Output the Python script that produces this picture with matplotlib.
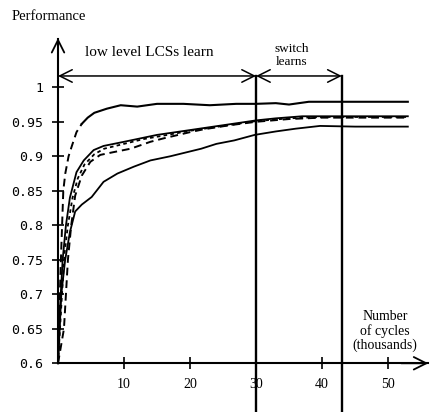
import matplotlib.pyplot as plt

# performance curves (x in thousands of cycles)
top_x = [0, 0.4, 0.8, 1.1, 1.6, 2.1, 2.8, 3.6, 4.5, 5.5, 7.4, 9.5, 12, 15, 19, 23, 27, 30, 33, 35, 38, 42, 46, 50, 53]
top_y = [0.6, 0.74, 0.85, 0.875, 0.9, 0.915, 0.935, 0.947, 0.956, 0.963, 0.969, 0.974, 0.972, 0.976,
         0.976, 0.974, 0.976, 0.976, 0.977, 0.975, 0.979, 0.979, 0.979, 0.979, 0.979]

mid_x = [0, 0.3, 0.7, 1.2, 1.8, 2.8, 3.9, 5.4, 6.9, 10, 13, 15, 20, 25, 30, 33, 37, 42, 46, 50, 53]
mid_y = [0.6, 0.68, 0.75, 0.8, 0.84, 0.877, 0.894, 0.909, 0.915, 0.921, 0.927, 0.931, 0.938, 0.945,
         0.952, 0.955, 0.958, 0.958, 0.958, 0.958, 0.958]

dot_x = [0, 0.6, 1.0, 1.5, 2.2, 3.0, 4.0, 5.5, 7, 10, 13, 16, 20, 25, 30, 35, 40, 45, 50, 53]
dot_y = [0.6, 0.7, 0.76, 0.8, 0.84, 0.868, 0.888, 0.903, 0.911, 0.918, 0.925, 0.93, 0.937, 0.944,
         0.951, 0.955, 0.957, 0.957, 0.957, 0.957]

dash_x = [0, 0.9, 1.2, 1.5, 2.0, 2.6, 3.6, 4.9, 6.4, 8.4, 11, 14, 16, 20, 22, 26, 30, 35, 40, 45, 50, 53]
dash_y = [0.6, 0.65, 0.7, 0.75, 0.8, 0.843, 0.872, 0.892, 0.902, 0.906, 0.911, 0.921, 0.926, 0.935,
          0.939, 0.945, 0.95, 0.954, 0.956, 0.956, 0.956, 0.956]

low_x = [0, 0.5, 1.07, 1.8, 2.6, 3.6, 5.1, 6.9, 9, 11.5, 14, 17, 21.7, 24, 26.7, 29.8, 33, 36, 39.7, 45, 50, 53]
low_y = [0.6, 0.7, 0.749, 0.79, 0.82, 0.83, 0.841, 0.863, 0.875, 0.885, 0.894, 0.9, 0.911, 0.918,
         0.923, 0.931, 0.936, 0.94, 0.944, 0.943, 0.943, 0.943]

xticks = [10, 20, 30, 40, 50]
yticks = [0.6, 0.65, 0.7, 0.75, 0.8, 0.85, 0.9, 0.95, 1.0]
ytick_labels = ["0.6", "0.65", "0.7", "0.75", "0.8", "0.85", "0.9", "0.95", "1"]

phase_edges = [0, 30, 43]
phase_y = 1.0164

fig = plt.figure(figsize=(4.3, 4.12), dpi=100)
ax = fig.add_axes([0, 0, 1, 1])
ax.set_xlim(-8.79, 56.36)
ax.set_ylim(0.5294, 1.1265)

# curves
k = 7
ax.plot(top_x[:k + 1], top_y[:k + 1], color='black', lw=1.4, ls=(0, (4, 2.5)))
ax.plot(top_x[k:], top_y[k:], color='black', lw=1.5)
ax.plot(mid_x, mid_y, color='black', lw=1.3)
ax.plot(dot_x, dot_y, color='black', lw=1.3, ls=(0, (2, 1.8)))
ax.plot(dash_x, dash_y, color='black', lw=1.4, ls=(0, (4, 2.5)))
ax.plot(low_x, low_y, color='black', lw=1.3)

# phase boundaries
for xv in phase_edges[1:]:
    ax.plot([xv, xv], [phase_y, 0.5294], color='black', lw=1.7)

arrow = dict(arrowstyle='<->,head_length=0.9,head_width=0.45', lw=1.1, color='black',
             shrinkA=0, shrinkB=0)
ax.annotate('', xy=(phase_edges[0], phase_y), xytext=(phase_edges[1], phase_y), arrowprops=arrow)
ax.annotate('', xy=(phase_edges[1], phase_y), xytext=(phase_edges[2], phase_y), arrowprops=arrow)

serif = 'Liberation Serif'
ax.text(13.9, 1.0497, "low level LCSs learn", family=serif, fontsize=11, ha='center', va='center')
ax.text(35.45, 1.046, "switch\nlearns", family=serif, fontsize=9.5, ha='center', va='center',
        linespacing=1.15)
ax.text(49.5, 0.647, "Number\nof cycles\n(thousands)", family=serif, fontsize=10, ha='center',
        va='center', linespacing=1.08)
ax.text(-6.97, 1.1019, "Performance", family=serif, fontsize=10.5, ha='left', va='center')

# axes with arrows
for s in ['top', 'right']:
    ax.spines[s].set_visible(False)
ax.spines['left'].set_position(('data', 0))
ax.spines['bottom'].set_position(('data', 0.6))
ax.spines['left'].set_bounds(0.6, 1.07)
ax.spines['bottom'].set_bounds(0, 56)
ax.spines['left'].set_linewidth(1.5)
ax.spines['bottom'].set_linewidth(1.5)
head = dict(arrowstyle='->,head_length=0.9,head_width=0.45', lw=1.3, color='black',
            shrinkA=0, shrinkB=0)
ax.annotate('', xy=(0, 1.0714), xytext=(0, 1.03), arrowprops=head)
ax.annotate('', xy=(56.1, 0.6), xytext=(52, 0.6), arrowprops=head)

ax.set_xticks(xticks)
ax.set_xticklabels([str(t) for t in xticks], family=serif, fontsize=10)
ax.set_yticks(yticks)
ax.set_yticklabels(ytick_labels, family='DejaVu Sans Mono', fontsize=9.5)
ax.tick_params(direction='inout', length=9, width=1.2, pad=6)

fig.savefig('out.png', dpi=100)
